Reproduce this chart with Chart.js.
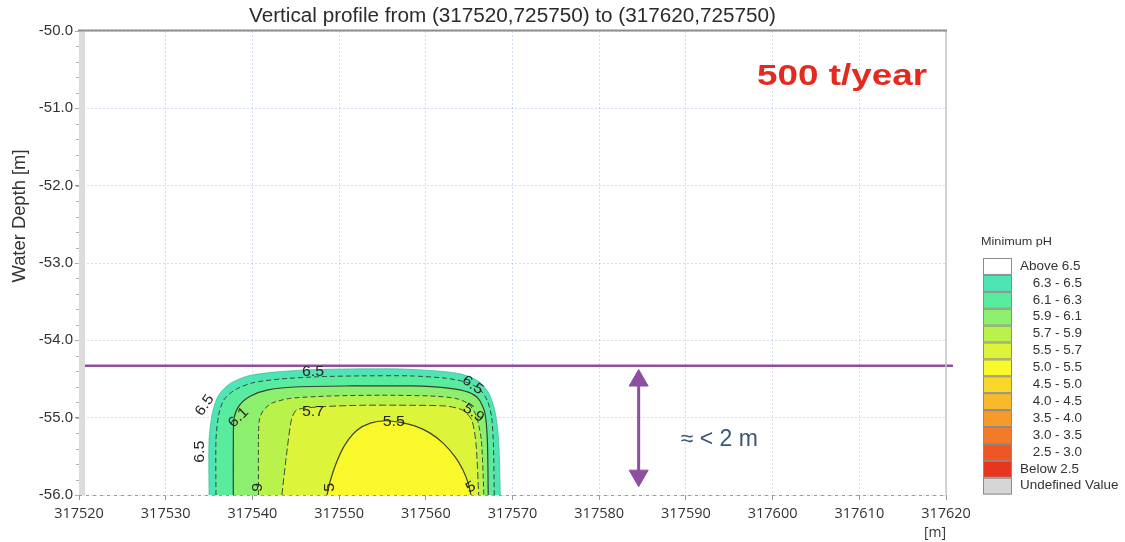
<!DOCTYPE html>
<html>
<head>
<meta charset="utf-8">
<title>Minimum pH – vertical profile</title>
<script src="https://cdn.jsdelivr.net/npm/chart.js@4.4.1/dist/chart.umd.min.js"></script>
<style>
  html, body { margin: 0; padding: 0; background: #ffffff; }
  #wrap { width: 1125px; height: 542px; position: relative; }
  canvas { display: block; }
</style>
</head>
<body>
<div id="wrap"><canvas id="profile" width="1125" height="542"></canvas></div>
<script>
// ---- axes ----
const distanceMin = 317520, distanceMax = 317620, distanceStep = 10;
const depthMin = -56, depthMax = -50, depthStep = 1;

// ---- pH classes (legend) ----
const phClasses = ['Above 6.5', '6.3 - 6.5', '6.1 - 6.3', '5.9 - 6.1', '5.7 - 5.9', '5.5 - 5.7',
  '5.0 - 5.5', '4.5 - 5.0', '4.0 - 4.5', '3.5 - 4.0', '3.0 - 3.5', '2.5 - 3.0', 'Below 2.5', 'Undefined Value'];
const phColors = ['#ffffff', '#4fe4b4', '#5aec9e', '#8cf06e', '#b9f24b', '#dcf53a',
  '#f8f82a', '#f9d62a', '#f8b92a', '#f69b2a', '#f27a28', '#ee5724', '#e8361e', '#d6d6d6'];

// ---- contour outlines (distance, depth), outer level first ----
const contourLevels = [6.5, 6.3, 6.1, 5.9, 5.7, 5.5];

const contour65X = [317535.0, 317535.0, 317535.4, 317536.1, 317537.4, 317539.5, 317542.6, 317546.7, 317551.3,
  317557.1, 317561.7, 317564.2, 317566.1, 317567.3, 317568.0, 317568.4, 317568.6];
const contour65Y = [-56, -55.29, -54.93, -54.71, -54.56, -54.46, -54.41, -54.38, -54.37,
  -54.37, -54.40, -54.44, -54.53, -54.69, -54.93, -55.29, -56];

const contour63X = [317535.8, 317535.8, 317536.1, 317536.7, 317538.0, 317540.0, 317543.2, 317547.8, 317552.5,
  317558.2, 317562.3, 317564.6, 317566.2, 317567.1, 317567.6, 317567.8, 317567.9];
const contour63Y = [-56, -55.29, -54.97, -54.77, -54.64, -54.55, -54.50, -54.47, -54.46,
  -54.46, -54.49, -54.54, -54.63, -54.78, -55.00, -55.35, -56];

const contour61X = [317537.8, 317537.8, 317537.9, 317538.5, 317539.8, 317541.8, 317545.5, 317551.3,
  317558.2, 317562.8, 317564.9, 317566.1, 317566.8, 317567.1, 317567.2];
const contour61Y = [-56, -55.29, -55.00, -54.84, -54.72, -54.64, -54.60, -54.59,
  -54.59, -54.62, -54.67, -54.76, -54.93, -55.29, -56];

const contour59X = [317540.7, 317540.7, 317540.8, 317541.3, 317542.3, 317544.4, 317549.0,
  317554.8, 317560.5, 317563.4, 317564.9, 317565.8, 317566.4, 317566.7];
const contour59Y = [-56, -55.29, -55.03, -54.90, -54.81, -54.75, -54.72,
  -54.71, -54.72, -54.75, -54.82, -54.97, -55.29, -56];

const contour57X = [317543.4, 317544.0, 317544.5, 317545.1, 317547.8, 317552.5,
  317558.2, 317562.3, 317564.2, 317565.3, 317565.8, 317566.1];
const contour57Y = [-56, -55.42, -55.03, -54.90, -54.86, -54.84,
  -54.84, -54.85, -54.90, -55.03, -55.35, -56];

const contour55X = [317548.6, 317549.0, 317549.8, 317550.8, 317552.1, 317553.6, 317555.3, 317557.1,
  317558.8, 317560.5, 317562.0, 317563.4, 317564.3, 317564.9, 317565.2];
const contour55Y = [-56, -55.81, -55.55, -55.33, -55.16, -55.07, -55.04, -55.06,
  -55.11, -55.20, -55.33, -55.51, -55.68, -55.85, -56];

// ---- contour labels ----
const contourLabelText = ['6.5', '6.5', '6.5', '6.5', '6.1', '5.7', '5.5', '5.9', '9', '5', '5'];
const contourLabelX = [317547.0, 317565.4, 317534.5, 317534.0, 317538.4, 317547.0, 317556.3, 317565.5, 317540.6, 317549.0, 317565.2];
const contourLabelY = [-54.41, -54.58, -54.84, -55.44, -55.00, -54.93, -55.06, -54.94, -55.90, -55.90, -55.90];
const contourLabelAngle = [0, 35, -55, -90, -45, 0, 0, 35, -90, -90, -30];

// ---- annotations ----
const thresholdX = [317520, 317620.8];
const thresholdDepth = -54.33;
const gapArrowX = 317584.55;
const gapArrowDepths = [-54.52, -55.75];
const gapNote = '≈ < 2 m';
const gapNoteX = 317589.4;
const gapNoteDepth = -55.29;
const scenarioNote = '500 t/year';
const chartTitle = 'Vertical profile from (317520,725750) to (317620,725750)';
const depthTitle = 'Water Depth [m]';
const distanceTitle = '[m]';
const legendTitle = 'Minimum pH';

// ---- styling ----
const contourSeries = [
  {x: contour65X, y: contour65Y},
  {x: contour63X, y: contour63Y},
  {x: contour61X, y: contour61Y},
  {x: contour59X, y: contour59Y},
  {x: contour57X, y: contour57Y},
  {x: contour55X, y: contour55Y}
];
const contourStroke = [
  {color: 'rgba(60,185,145,0.7)', width: 1, dash: []},
  {color: 'rgba(45,45,45,0.85)', width: 1, dash: [5, 3]},
  {color: 'rgba(45,45,45,0.9)', width: 1.2, dash: []},
  {color: 'rgba(45,45,45,0.85)', width: 1, dash: [5, 3]},
  {color: 'rgba(45,45,45,0.85)', width: 1, dash: [7, 3]},
  {color: 'rgba(45,45,45,0.9)', width: 1.2, dash: []}
];
const purple = '#8e4f9f';
const gridColor = 'rgba(135,170,228,0.38)';

const contourDatasets = contourLevels.map((level, i) => ({
  label: 'pH ' + level,
  data: contourSeries[i].x.map((x, k) => ({x: x, y: contourSeries[i].y[k]})),
  showLine: true,
  pointRadius: 0,
  fill: 'shape',
  backgroundColor: phColors[i + 1],
  borderColor: contourStroke[i].color,
  borderWidth: contourStroke[i].width,
  borderDash: contourStroke[i].dash,
  tension: 0.25,
  order: 20 - i
}));

const thresholdDataset = {
  label: 'threshold',
  data: thresholdX.map(x => ({x: x, y: thresholdDepth})),
  showLine: true,
  pointRadius: 0,
  borderColor: purple,
  borderWidth: 2.5,
  fill: false,
  clip: {left: 2, top: 2, right: 10, bottom: 2},
  order: 0
};

const arrowDataset = {
  label: 'gap',
  data: gapArrowDepths.map(d => ({x: gapArrowX, y: d})),
  showLine: true,
  borderColor: purple,
  borderWidth: 3,
  pointStyle: 'triangle',
  pointRadius: 11,
  pointRotation: [0, 180],
  pointBackgroundColor: purple,
  pointBorderColor: purple,
  pointBorderWidth: 1,
  fill: false,
  order: 1
};

function drawText(ctx, text, x, y, o) {
  ctx.save();
  ctx.translate(x, y);
  if (o.angle) ctx.rotate(o.angle * Math.PI / 180);
  ctx.font = o.font;
  let sx = o.sx || 1;
  if (o.width) sx = o.width / ctx.measureText(text).width;
  ctx.scale(sx, 1);
  ctx.fillStyle = o.color;
  ctx.textAlign = o.align || 'left';
  ctx.textBaseline = o.baseline || 'middle';
  ctx.fillText(text, 0, 0);
  ctx.restore();
}

const profileDecor = {
  id: 'profileDecor',
  afterDatasetsDraw(chart) {
    const {ctx, scales: {x, y}} = chart;
    const area = chart.chartArea;
    ctx.save();
    ctx.beginPath();
    ctx.rect(area.left, area.top, area.right - area.left, area.bottom - area.top);
    ctx.clip();
    contourLabelText.forEach((t, i) => {
      drawText(ctx, t, x.getPixelForValue(contourLabelX[i]), y.getPixelForValue(contourLabelY[i]),
        {font: '14.5px "Liberation Sans", Arial, sans-serif', color: '#262626', align: 'center', angle: contourLabelAngle[i], sx: 1.1});
    });
    ctx.restore();
    drawText(ctx, gapNote, x.getPixelForValue(gapNoteX), y.getPixelForValue(gapNoteDepth),
      {font: '23px "Liberation Sans", Arial, sans-serif', color: '#3a5775', align: 'left'});
  },
  afterDraw(chart) {
    const {ctx, scales: {x, y}} = chart;
    const a = chart.chartArea;
    ctx.save();
    // left gutter bar with minor ticks
    ctx.fillStyle = '#dcdcdc';
    ctx.fillRect(a.left, a.top, 6, a.bottom - a.top);
    ctx.strokeStyle = '#b4b4b4';
    ctx.lineWidth = 1;
    for (let d = depthMin; d <= depthMax + 1e-9; d += 0.2) {
      const py = Math.round(y.getPixelForValue(d)) + 0.5;
      ctx.beginPath(); ctx.moveTo(a.left - 3, py); ctx.lineTo(a.left, py); ctx.stroke();
    }
    // bottom dotted axis
    ctx.strokeStyle = '#9c9c9c';
    ctx.setLineDash([3, 4]);
    ctx.beginPath(); ctx.moveTo(a.left, a.bottom + 0.5); ctx.lineTo(a.right, a.bottom + 0.5); ctx.stroke();
    ctx.setLineDash([]);
    // right border
    ctx.strokeStyle = '#c6c6c6';
    ctx.lineWidth = 1.5;
    ctx.beginPath(); ctx.moveTo(a.right, a.top); ctx.lineTo(a.right, a.bottom); ctx.stroke();
    // top border
    ctx.strokeStyle = '#8e8e8e';
    ctx.lineWidth = 2;
    ctx.beginPath(); ctx.moveTo(a.left - 1, a.top - 0.5); ctx.lineTo(a.right + 1, a.top - 0.5); ctx.stroke();
    ctx.restore();

    // titles
    drawText(ctx, chartTitle, (a.left + a.right) / 2, 16,
      {font: '20px "Liberation Sans", Arial, sans-serif', color: '#2b2b2b', align: 'center', width: 527});
    drawText(ctx, depthTitle, 20, 216,
      {font: '18px "Liberation Sans", Arial, sans-serif', color: '#333333', align: 'center', angle: -90, width: 133});
    drawText(ctx, scenarioNote, 757, 85,
      {font: 'bold 30px "Liberation Sans", Arial, sans-serif', color: '#e42a1f', align: 'left', baseline: 'alphabetic', width: 170});

    // legend
    const lx = 983, ly = 258, lw = 29, lh = 16.9;
    drawText(ctx, legendTitle, 981, 242,
      {font: '11px "Liberation Sans", Arial, sans-serif', color: '#333333', align: 'left', sx: 1.15});
    phClasses.forEach((label, i) => {
      const top = ly + i * lh;
      ctx.fillStyle = phColors[i];
      ctx.fillRect(lx, top, lw, lh);
      ctx.strokeStyle = '#8c8c8c';
      ctx.lineWidth = 1;
      ctx.strokeRect(lx + 0.5, top + 0.5, lw - 1, lh - 1);
      const numeric = /^[0-9]/.test(label);
      drawText(ctx, label, numeric ? 1082 : 1020, top + lh / 2,
        {font: '12px "Liberation Sans", Arial, sans-serif', color: '#333333', align: numeric ? 'right' : 'left', sx: 1.12});
    });
  }
};

new Chart(document.getElementById('profile'), {
  type: 'scatter',
  data: { datasets: [thresholdDataset, arrowDataset, ...contourDatasets] },
  options: {
    responsive: false,
    animation: false,
    devicePixelRatio: 1,
    events: [],
    layout: { padding: { top: 31, right: 179, bottom: 0, left: 0 } },
    plugins: { legend: { display: false }, tooltip: { enabled: false }, title: { display: false } },
    scales: {
      x: {
        type: 'linear', min: distanceMin, max: distanceMax, z: 1,
        afterFit: s => { s.height = 47; },
        ticks: {
          stepSize: distanceStep, autoSkip: false, maxRotation: 0, padding: 5, color: '#333333',
          font: { family: '"Open Sans", sans-serif', size: 14.5 },
          callback: v => String(v)
        },
        grid: { color: gridColor, lineWidth: 1, drawTicks: true, tickLength: 5, tickColor: '#9a9a9a' },
        border: { display: false, dash: [2, 2] },
        title: {
          display: true, text: distanceTitle, align: 'end', color: '#333333',
          font: { family: '"Open Sans", sans-serif', size: 14 }, padding: { top: 0, bottom: 1 }
        }
      },
      y: {
        type: 'linear', min: depthMin, max: depthMax, z: 1,
        afterFit: s => { s.width = 79; },
        ticks: {
          stepSize: depthStep, padding: 2, color: '#333333',
          font: { family: '"Liberation Sans", Arial, sans-serif', size: 15 },
          callback: v => Number(v).toFixed(1)
        },
        grid: { color: gridColor, lineWidth: 1, drawTicks: true, tickLength: 4, tickColor: '#9a9a9a' },
        border: { display: false, dash: [2, 2] }
      }
    }
  },
  plugins: [profileDecor]
});
</script>
</body>
</html>
